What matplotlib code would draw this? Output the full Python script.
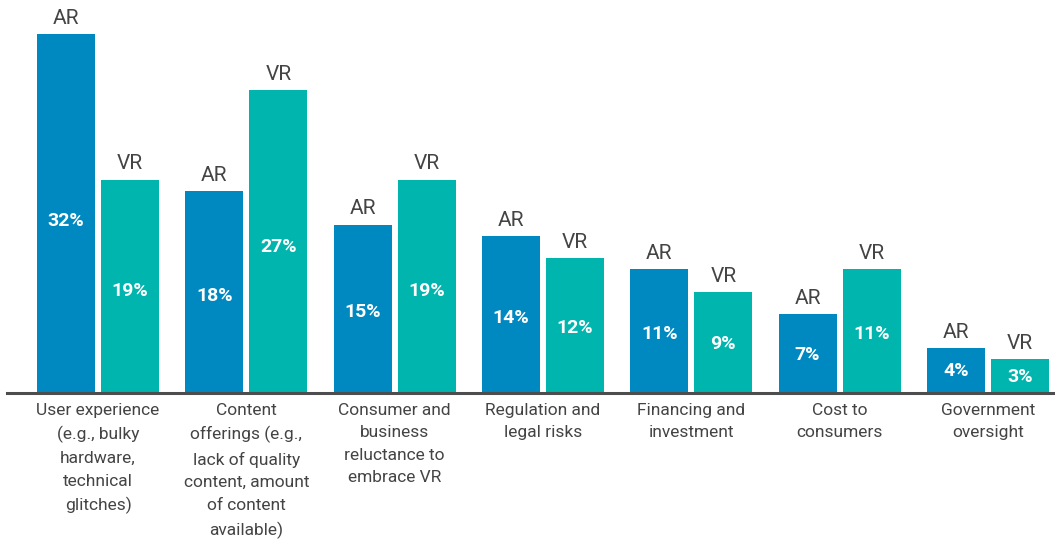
import matplotlib.pyplot as plt
import numpy as np

categories = [
    "User experience\n(e.g., bulky\nhardware,\ntechnical\nglitches)",
    "Content\nofferings (e.g.,\nlack of quality\ncontent, amount\nof content\navailable)",
    "Consumer and\nbusiness\nreluctance to\nembrace VR",
    "Regulation and\nlegal risks",
    "Financing and\ninvestment",
    "Cost to\nconsumers",
    "Government\noversight",
]
ar_values = [32, 18, 15, 14, 11, 7, 4]
vr_values = [19, 27, 19, 12, 9, 11, 3]

AR_COLOR = "#0089c1"
VR_COLOR = "#00b5ad"
TEXT_COLOR = "#444444"

plt.rcParams['font.family'] = ['Roboto', 'DejaVu Sans']

fig = plt.figure(figsize=(10.55, 5.39), dpi=100)
ax = fig.add_axes([7 / 1055, 146 / 539, 1 - 7 / 1055, 393 / 539])

x = np.arange(len(categories))
w = 0.391
off = 0.216

for xs, vals, name, color in [(x - off, ar_values, "AR", AR_COLOR),
                               (x + off, vr_values, "VR", VR_COLOR)]:
    ax.bar(xs, vals, width=w, color=color)
    for xi, v in zip(xs, vals):
        ax.text(xi, v + 0.55, name, ha='center', va='bottom',
                fontsize=15, color=TEXT_COLOR)
        ax.text(xi, v * 0.48, f"{v}%", ha='center', va='center',
                fontsize=14, fontweight='bold', color='white')

ax.set_xlim(-0.614, 6.452)
ax.set_ylim(0, 35)
ax.set_yticks([])
ax.set_xticks(x)
ax.set_xticklabels(categories, fontsize=12.5, color=TEXT_COLOR, linespacing=1.63)
ax.tick_params(axis='x', length=0, pad=7)

for side in ['top', 'right', 'left']:
    ax.spines[side].set_visible(False)
ax.spines['bottom'].set_color('#4d4d4d')
ax.spines['bottom'].set_linewidth(2.2)

fig.savefig("out.png", dpi=100)
